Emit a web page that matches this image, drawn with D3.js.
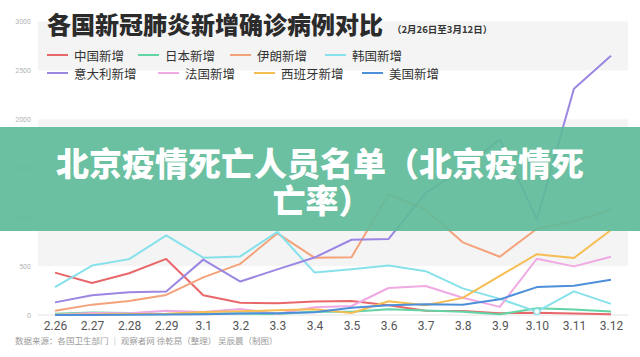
<!DOCTYPE html>
<html>
<head>
<meta charset="utf-8">
<script src="https://cdn.jsdelivr.net/npm/d3@7"></script>
<style>
  body { margin: 0; background: #fff; }
  svg { display: block; font-family: "Noto Sans CJK SC", "Noto Sans", sans-serif; }
</style>
</head>
<body>
<svg id="chart"></svg>
<script>
const width = 640;
const height = 357;

// 数据
const dates = ["2.26", "2.27", "2.28", "2.29", "3.1", "3.2", "3.3", "3.4", "3.5", "3.6", "3.7", "3.8", "3.9", "3.10", "3.11", "3.12"];
const yTicks = [0, 500, 1000, 1500, 2000, 2500, 3000];

const chinaNew = [433, 327, 427, 573, 202, 125, 119, 139, 143, 99, 44, 40, 19, 24, 15, 8];
const japanNew = [13, 25, 21, 9, 14, 16, 10, 33, 34, 59, 47, 33, 7, 70, 56, 36];
const iranNew = [44, 106, 143, 205, 385, 523, 835, 586, 591, 1234, 1076, 743, 595, 881, 958, 1075];
const koreaNew = [284, 505, 571, 813, 586, 599, 851, 435, 467, 505, 448, 272, 165, 35, 242, 114];
const italyNew = [129, 202, 233, 240, 566, 342, 466, 587, 769, 778, 1247, 1492, 1797, 977, 2313, 2651];
const franceNew = [2, 20, 19, 43, 30, 61, 13, 80, 92, 276, 296, 177, 83, 575, 497, 595];
const spainNew = [2, 6, 10, 13, 31, 38, 48, 59, 21, 140, 100, 175, 400, 622, 582, 869];
const usNew = [0, 1, 2, 4, 8, 16, 18, 28, 75, 100, 110, 105, 160, 285, 300, 360];

const seriesNames = ["中国新增", "日本新增", "伊朗新增", "韩国新增", "意大利新增", "法国新增", "西班牙新增", "美国新增"];
const seriesValues = [chinaNew, japanNew, iranNew, koreaNew, italyNew, franceNew, spainNew, usNew];
const seriesColors = ["#e8676a", "#62d4a6", "#f4a27a", "#86e1ea", "#9b86e2", "#f0a9e3", "#f6bd52", "#4d8fd8"];

const svg = d3.select("#chart")
  .attr("width", width)
  .attr("height", height);

svg.append("rect").attr("width", width).attr("height", height).attr("fill", "#fff");

// 比例尺
const x = d3.scalePoint()
  .domain(dates)
  .range([55, 611]);

const y = d3.scaleLinear()
  .domain([0, 3000])
  .range([315, 21.5]);

// 隔行背景
const bands = [[500, 1000], [1500, 2000], [2500, 3000]];
svg.append("g").selectAll("rect")
  .data(bands)
  .enter()
  .append("rect")
  .attr("x", 38)
  .attr("width", 590)
  .attr("y", d => y(d[1]))
  .attr("height", d => y(d[0]) - y(d[1]))
  .attr("fill", "#f4f4f4");

// y 轴
const yAxis = d3.axisLeft(y)
  .tickValues(yTicks)
  .tickFormat(d3.format("d"))
  .tickSize(0)
  .tickPadding(0);

svg.append("g")
  .attr("transform", "translate(31,0)")
  .call(yAxis)
  .call(g => g.select(".domain").remove())
  .call(g => g.selectAll("text")
    .attr("fill", "#b5b5b5")
    .style("font-size", "7px")
    .style("font-family", "Roboto, sans-serif"));

// x 轴
const xAxis = d3.axisBottom(x)
  .tickSize(0)
  .tickPadding(6);

const xg = svg.append("g")
  .attr("transform", `translate(0, ${y(0)})`)
  .call(xAxis)
  .call(g => g.select(".domain").remove())
  .call(g => g.selectAll("text")
    .attr("fill", "#555")
    .style("font-size", "12px")
    .style("font-family", "Roboto, sans-serif"));

xg.append("line")
  .attr("x1", 38)
  .attr("x2", 628)
  .attr("stroke", "#e2e2e2");

// 折线
const line = d3.line()
  .x((d, i) => x(dates[i]))
  .y(d => y(d));

svg.append("g").selectAll("path")
  .data(seriesValues)
  .enter()
  .append("path")
  .attr("d", d => line(d))
  .attr("fill", "none")
  .attr("stroke", (d, i) => seriesColors[i])
  .attr("stroke-width", 2)
  .attr("stroke-linejoin", "round");

// 韩国 3.10 处的标记点
svg.append("circle")
  .attr("cx", x("3.10"))
  .attr("cy", y(koreaNew[13]))
  .attr("r", 3)
  .attr("fill", "#fff")
  .attr("stroke", seriesColors[3])
  .attr("stroke-width", 1.2);

// 标题
svg.append("text")
  .attr("x", 47)
  .attr("y", 23)
  .attr("dominant-baseline", "central")
  .style("font-size", "24px")
  .style("font-weight", 900)
  .attr("fill", "#2b2b2b")
  .text("各国新冠肺炎新增确诊病例对比");

svg.append("text")
  .attr("x", 392)
  .attr("y", 29)
  .attr("dominant-baseline", "central")
  .style("font-size", "9.5px")
  .style("font-weight", 700)
  .attr("fill", "#333")
  .text("（2月26日至3月12日）");

// 图例
const legendPos = [
  [47, 55], [138, 55], [230, 55], [325, 55],
  [47, 73], [158, 73], [254, 73], [362, 73]
];

const legend = svg.append("g").selectAll("g")
  .data(seriesNames)
  .enter()
  .append("g")
  .attr("transform", (d, i) => `translate(${legendPos[i][0]}, ${legendPos[i][1]})`);

legend.append("line")
  .attr("x1", 0)
  .attr("x2", 21)
  .attr("stroke", (d, i) => seriesColors[i])
  .attr("stroke-width", 2);

legend.append("text")
  .attr("x", 27)
  .attr("dominant-baseline", "central")
  .style("font-size", "12.5px")
  .attr("fill", "#333")
  .text(d => d);

// 来源
svg.append("text")
  .attr("x", 15)
  .attr("y", 340)
  .attr("dominant-baseline", "central")
  .style("font-size", "8.5px")
  .attr("fill", "#9a9a9a")
  .text("数据来源：各国卫生部门 ｜ 观察者网 徐乾昂（整理） 吴辰晨（制图）");

// 绿色横幅
svg.append("rect")
  .attr("x", 0)
  .attr("y", 127)
  .attr("width", width)
  .attr("height", 104)
  .attr("fill", "rgb(94,187,153)")
  .attr("opacity", 0.92);

const bannerLines = ["北京疫情死亡人员名单（北京疫情死", "亡率）"];
const banner = svg.append("text")
  .attr("text-anchor", "middle")
  .attr("dominant-baseline", "central")
  .style("font-size", "33px")
  .style("font-weight", 900)
  .attr("fill", "#fff");

banner.selectAll("tspan")
  .data(bannerLines)
  .enter()
  .append("tspan")
  .attr("x", (d, i) => i === 0 ? 320 : 322)
  .attr("y", (d, i) => 162 + i * 37)
  .text(d => d);
</script>
</body>
</html>
